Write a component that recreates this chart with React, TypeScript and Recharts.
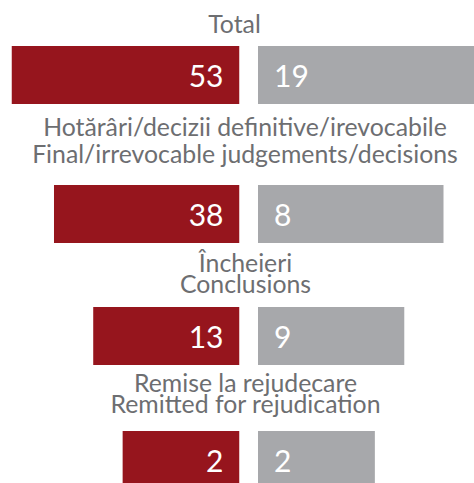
import { Bar, BarChart, LabelList, XAxis, YAxis } from "recharts";

const titlesRo = ["Total", "Hotărâri/decizii definitive/irevocabile", "Încheieri", "Remise la rejudecare"];
const titlesEn = ["", "Final/irrevocable judgements/decisions", "Conclusions", "Remitted for rejudication"];
const redValues = [53, 38, 13, 2];
const greyValues = [19, 8, 9, 2];

const RED = "#96151d";
const GREY = "#a7a8ab";
const TEXT = "#6d6e71";
const FONT = "Lato, 'Open Sans', sans-serif";

// both bars of a row share one length, driven by the row total; the scale
// starts below zero so that even the smallest row keeps a readable bar
const BAR_FLOOR = -67.5;
const TOTAL_MAX = 72;
const SIDE_WIDTH = 228;
const RED_END = 239.5;
const GREY_START = 257.5;
const BAR_H = 58;

const rowLayout = [
  { lines: [33.3], cx: 234.5, barTop: 46 },
  { lines: [135.7, 162.7], cx: 245, barTop: 185 },
  { lines: [271.7, 292.7], cx: 245.5, barTop: 307 },
  { lines: [391.7, 413.3], cx: 245.5, barTop: 431 },
];

type Row = { name: string; red: number; grey: number };

const rows: Row[] = titlesRo.map((name, i) => ({ name, red: redValues[i], grey: greyValues[i] }));

const span = (d: Row) => [BAR_FLOOR, d.red + d.grey];

const makeLabel = (anchor: "start" | "end") => (p: any) => {
  const x = Number(p.x);
  const w = Number(p.width);
  const tx = anchor === "end" ? Math.max(x, x + w) - 16 : Math.min(x, x + w) + 16;
  return (
    <text x={tx} y={Number(p.y) + Number(p.height) / 2 + 12} textAnchor={anchor} fill="#fff" fontSize={30} fontFamily={FONT}>
      {p.value}
    </text>
  );
};

const sides = [
  { key: "red", color: RED, left: 0, width: RED_END, reversed: true, padding: { left: RED_END - SIDE_WIDTH, right: 0 }, label: makeLabel("end") },
  { key: "grey", color: GREY, left: GREY_START, width: SIDE_WIDTH + 4, reversed: false, padding: { left: 0, right: 4 }, label: makeLabel("start") },
];

function SideChart({ row, top, side }: { row: Row; top: number; side: (typeof sides)[number] }) {
  return (
    <div style={{ position: "absolute", left: side.left, top }}>
      <BarChart
        width={side.width}
        height={BAR_H}
        data={[row]}
        layout="vertical"
        margin={{ top: 0, right: 0, bottom: 0, left: 0 }}
        barCategoryGap={0}
      >
        <YAxis type="category" dataKey="name" hide />
        <XAxis
          type="number"
          domain={[BAR_FLOOR, TOTAL_MAX]}
          allowDataOverflow
          reversed={side.reversed}
          hide
          padding={side.padding}
        />
        <Bar dataKey={span} fill={side.color} isAnimationActive={false}>
          <LabelList dataKey={side.key} content={side.label} />
        </Bar>
      </BarChart>
    </div>
  );
}

export default function App() {
  return (
    <div style={{ position: "absolute", left: 0, top: 0, width: 474, height: 483, overflow: "hidden", background: "#fff" }}>
      {rows.map((row, i) =>
        sides.map((side) => <SideChart key={`${row.name}-${side.key}`} row={row} top={rowLayout[i].barTop} side={side} />)
      )}
      <svg width={474} height={483} style={{ position: "absolute", left: 0, top: 0 }}>
        {rowLayout.map((l, i) =>
          [titlesRo[i], titlesEn[i]]
            .filter((t) => t)
            .map((t, j) => (
              <text key={`${i}-${j}`} x={l.cx} y={l.lines[j]} textAnchor="middle" fill={TEXT} fontSize={24.8} fontFamily={FONT}>
                {t}
              </text>
            ))
        )}
      </svg>
    </div>
  );
}
